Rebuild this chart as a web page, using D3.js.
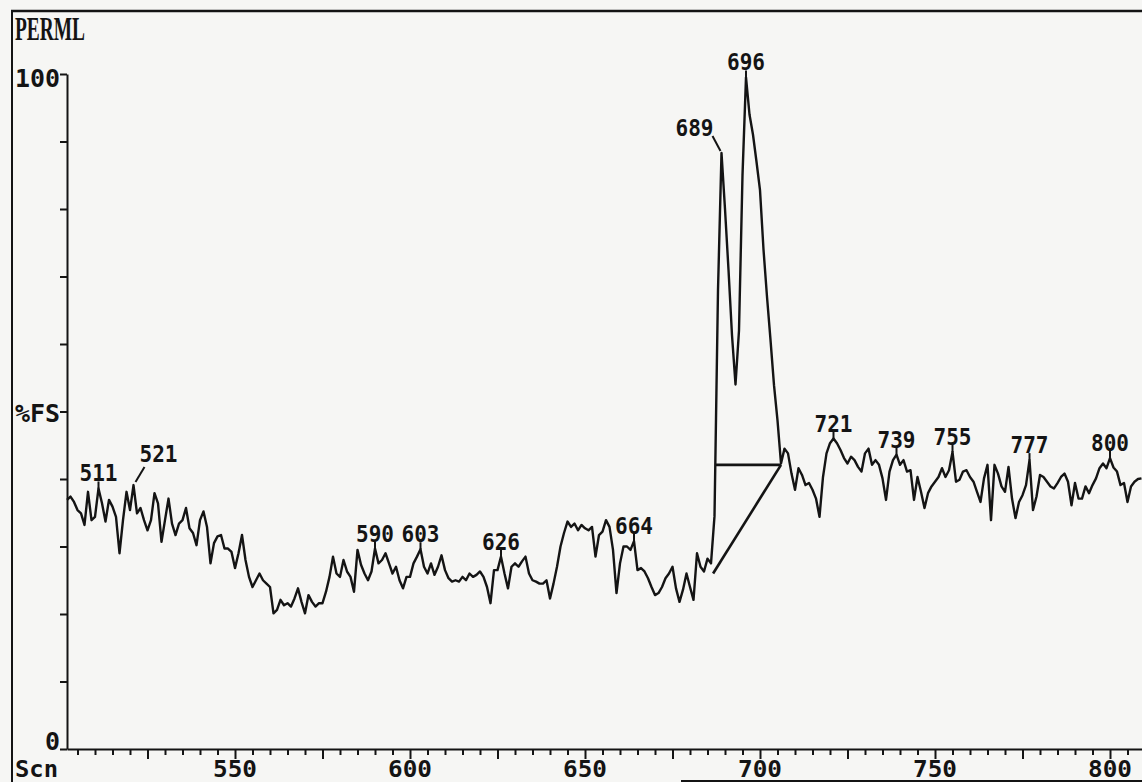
<!DOCTYPE html>
<html><head><meta charset="utf-8">
<script src="https://cdn.jsdelivr.net/npm/d3@7"></script>
<style>
html,body{margin:0;padding:0;background:#f6f6f4;}
svg{display:block;}
</style></head><body>
<svg id="c" width="1142" height="782"></svg>
<script>
// ---------- DATA ----------
const firstScan = 502;
const intensity = [
  36.9, 37.4, 36.6, 35.4, 34.9, 33.2, 38.1, 33.9, 34.4, 38.6,
  36.4, 33.7, 36.9, 35.9, 34.4, 29.0, 33.9, 38.1, 35.4, 39.1,
  34.9, 35.7, 33.9, 32.4, 33.9, 37.9, 36.4, 30.7, 33.9, 37.1,
  33.4, 31.7, 33.4, 33.9, 35.7, 32.7, 32.0, 30.2, 33.9, 35.2,
  32.9, 27.5, 30.5, 31.5, 31.7, 29.7, 29.7, 29.2, 26.8, 29.0,
  31.7, 28.0, 25.5, 24.0, 25.0, 26.0, 25.0, 24.5, 24.0, 20.1,
  20.6, 22.1, 21.3, 21.6, 21.1, 22.3, 23.8, 21.8, 20.1, 22.8,
  21.8, 21.1, 21.6, 21.6, 23.3, 25.5, 28.5, 26.0, 25.5, 28.0,
  26.3, 25.5, 23.3, 29.5, 27.3, 26.0, 25.0, 26.3, 29.7, 27.5,
  28.0, 29.0, 27.5, 26.0, 27.0, 25.0, 23.8, 25.5, 25.5, 27.5,
  28.5, 29.6, 27.0, 26.0, 27.5, 25.8, 27.0, 28.7, 26.5, 25.3,
  24.8, 25.0, 24.8, 25.5, 25.0, 26.0, 25.5, 25.8, 26.3, 25.5,
  24.0, 21.6, 26.5, 26.5, 28.5, 26.0, 23.8, 27.0, 27.5, 27.0,
  27.8, 28.5, 26.0, 25.0, 24.8, 24.5, 24.5, 25.0, 22.3, 24.5,
  27.0, 30.0, 32.0, 33.7, 32.9, 33.4, 32.4, 33.2, 32.7, 32.4,
  32.9, 28.5, 31.7, 32.2, 33.9, 32.9, 29.5, 23.1, 27.5, 30.0,
  30.0, 29.5, 30.8, 26.5, 26.8, 26.3, 25.3, 24.0, 22.8, 23.1,
  24.0, 25.3, 26.0, 27.0, 23.8, 21.8, 23.6, 26.0, 24.0, 22.1,
  29.0, 27.0, 26.3, 28.2, 27.5, 34.5, 68.0, 88.3, 80.0, 71.0,
  61.3, 54.0, 62.0, 85.0, 99.5, 94.0, 91.0, 87.0, 82.8, 74.0,
  67.0, 60.6, 53.9, 48.7, 42.3, 44.5, 43.8, 40.8, 38.4, 41.6,
  40.6, 39.1, 39.4, 38.4, 37.1, 34.4, 40.3, 43.8, 45.3, 46.0,
  45.3, 44.3, 43.1, 42.3, 43.3, 42.8, 41.8, 41.1, 43.8, 44.5,
  42.1, 42.8, 42.1, 40.1, 36.9, 41.1, 42.8, 43.6, 42.1, 42.8,
  41.1, 41.3, 36.9, 40.3, 38.1, 35.7, 37.9, 38.9, 39.6, 40.3,
  41.6, 40.3, 41.3, 44.0, 39.6, 39.9, 41.1, 41.3, 40.3, 39.6,
  38.1, 36.6, 40.1, 42.1, 33.9, 42.1, 40.8, 38.9, 38.1, 41.8,
  37.1, 34.2, 36.6, 37.6, 39.1, 42.8, 35.4, 37.4, 40.6, 40.3,
  39.6, 38.9, 38.6, 39.4, 40.3, 40.8, 39.6, 36.1, 39.4, 37.1,
  37.1, 38.9, 37.9, 39.1, 40.1, 41.6, 42.3, 41.6, 43.1, 41.7,
  41.1, 39.1, 39.4, 36.6, 38.9, 39.6, 40.0, 40.1
];
const peakLabels = [511, 521, 590, 603, 626, 664, 689, 696, 721, 739, 755, 777, 800];
const xTickLabels = [550, 600, 650, 700, 750, 800];
const yTickValues = [0, 10, 20, 30, 40, 50, 60, 70, 80, 90, 100];
const yLabelValues = [0, 50, 100];
const yLabelTexts = ["0", "%FS", "100"];
const baselineDrop = [{scan: 686.6, v: 26.0}, {scan: 706, v: 42.1}];
const baselineFlat = [{scan: 687.2, v: 42.1}, {scan: 706, v: 42.1}];
const yTitle = "PERML";
const xTitle = "Scn";

// ---------- LAYOUT ----------
const svg = d3.select("#c");
const ink = "#141414";
const mono = "'DejaVu Sans Mono', monospace";
const x = d3.scaleLinear().domain([502, 812]).range([67, 1152]);
const y = d3.scaleLinear().domain([0, 100]).range([749, 74]);

// frame
svg.append("line").attr("x1", 12).attr("x2", 12).attr("y1", 10).attr("y2", 782)
  .attr("stroke", ink).attr("stroke-width", 2);
svg.append("line").attr("x1", 11).attr("x2", 1142).attr("y1", 11).attr("y2", 11)
  .attr("stroke", ink).attr("stroke-width", 2.5);
svg.append("line").attr("x1", 681).attr("x2", 1142).attr("y1", 781).attr("y2", 781)
  .attr("stroke", ink).attr("stroke-width", 2);

// y title
svg.append("text").attr("x", 15).attr("y", 40).text(yTitle)
  .attr("font-family", "'Liberation Serif', serif").attr("font-size", 34)
  .attr("font-weight", "bold").attr("fill", ink)
  .attr("textLength", 70).attr("lengthAdjust", "spacingAndGlyphs");

// x axis
const xAxis = d3.axisBottom(x)
  .tickValues(d3.range(505, 812, 5))
  .tickSize(6).tickSizeOuter(0).tickFormat("");
const gx = svg.append("g").attr("transform", `translate(0,${y(0)})`).call(xAxis);
gx.select(".domain").attr("stroke", ink).attr("stroke-width", 2);
gx.selectAll(".tick line").attr("stroke", ink).attr("stroke-width", 2)
  .attr("y2", d => d % 25 === 0 ? 10 : 6);

svg.selectAll("text.xl").data(xTickLabels).join("text").attr("class", "xl")
  .attr("x", d => x(d)).attr("y", 777).attr("text-anchor", "middle")
  .attr("font-family", mono).attr("font-weight", "bold").attr("font-size", 23)
  .attr("textLength", 44).attr("lengthAdjust", "spacingAndGlyphs")
  .attr("fill", ink).text(d => d);
svg.append("text").attr("x", 15).attr("y", 777).text(xTitle)
  .attr("font-family", mono).attr("font-weight", "bold").attr("font-size", 23)
  .attr("textLength", 43).attr("lengthAdjust", "spacingAndGlyphs").attr("fill", ink);

// y axis
const yAxis = d3.axisLeft(y).tickValues(yTickValues).tickSize(7).tickSizeOuter(0).tickFormat("");
const gy = svg.append("g").attr("transform", `translate(${x(502)},0)`).call(yAxis);
gy.select(".domain").attr("stroke", ink).attr("stroke-width", 2);
gy.selectAll(".tick line").attr("stroke", ink).attr("stroke-width", 2);

const yLabelBaseline = [750, 422, 87];
yLabelValues.forEach((v, i) => {
  const t = yLabelTexts[i];
  svg.append("text").attr("x", 60).attr("y", yLabelBaseline[i])
    .attr("text-anchor", "end").attr("font-family", mono).attr("font-weight", "bold")
    .attr("font-size", 24).attr("textLength", t.length * 15)
    .attr("lengthAdjust", "spacingAndGlyphs").attr("fill", ink).text(t);
});

// trace
const series = intensity.map((v, i) => ({scan: firstScan + i, v}));
const line = d3.line().x(d => x(d.scan)).y(d => y(d.v));
svg.append("path").datum(series).attr("d", line)
  .attr("fill", "none").attr("stroke", ink).attr("stroke-width", 2.4)
  .attr("stroke-linejoin", "round");

// integration baselines
[baselineDrop, baselineFlat].forEach(b => {
  svg.append("path").datum(b).attr("d", line)
    .attr("fill", "none").attr("stroke", ink).attr("stroke-width", 2.6);
});

// peak labels
const labelLayout = {
  521: {dx: 25, gap: 23, leader: [2, -3, 11, -18]},
  689: {dx: -27, gap: 17, leader: [-1, -2, -9, -17]}
};
peakLabels.forEach(s => {
  const v = intensity[s - firstScan];
  const px = x(s), py = y(v);
  const L = labelLayout[s] || {dx: 0, gap: 7, leader: [0, 0, 0, -7]};
  svg.append("line")
    .attr("x1", px + L.leader[0]).attr("y1", py + L.leader[1])
    .attr("x2", px + L.leader[2]).attr("y2", py + L.leader[3])
    .attr("stroke", ink).attr("stroke-width", 2);
  svg.append("text").attr("x", px + L.dx).attr("y", py - L.gap)
    .attr("text-anchor", "middle").attr("font-family", mono).attr("font-weight", "bold")
    .attr("font-size", 23).attr("textLength", 38).attr("lengthAdjust", "spacingAndGlyphs")
    .attr("fill", ink).text(s);
});
</script>
</body></html>
